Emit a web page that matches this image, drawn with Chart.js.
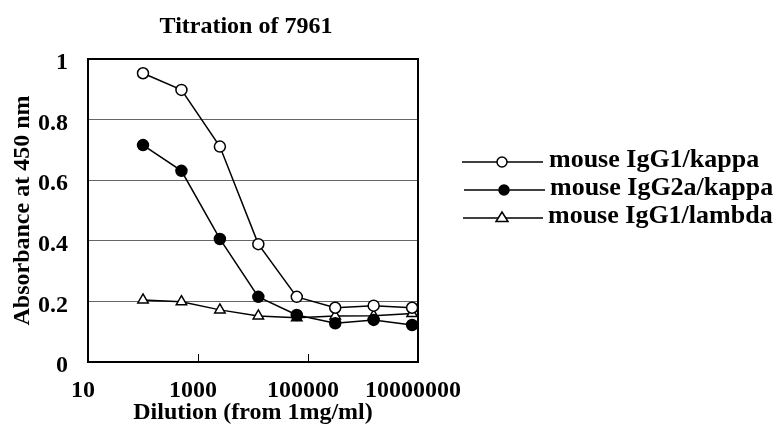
<!DOCTYPE html>
<html>
<head>
<meta charset="utf-8">
<script src="https://cdn.jsdelivr.net/npm/chart.js@4"></script>
<style>
  html, body { margin: 0; padding: 0; background: #fff; }
  #wrap { width: 781px; height: 425px; }
</style>
</head>
<body>
<div id="wrap"><canvas id="titration-chart" width="781" height="425"></canvas></div>
<script>
// dilution factors (5-fold series)
const dilutions = [100, 500, 2500, 12500, 62500, 312500, 1562500, 7812500];
const seriesNames = ['mouse IgG1/kappa', 'mouse IgG2a/kappa', 'mouse IgG1/lambda'];
const igg1Kappa = [0.953, 0.898, 0.711, 0.389, 0.215, 0.179, 0.186, 0.179];
const igg2aKappa = [0.716, 0.631, 0.406, 0.215, 0.155, 0.128, 0.139, 0.122];
const igg1Lambda = [0.205, 0.199, 0.172, 0.152, 0.146, 0.152, 0.153, 0.160];
const xTicks = [10, 1000, 100000, 10000000];
const yTicks = [0, 0.2, 0.4, 0.6, 0.8, 1];

const serif = "'Liberation Serif', 'Times New Roman', serif";

function toPoints(values) {
    return values.map((v, i) => ({ x: dilutions[i], y: v }));
}

// box + inward ticks + title + legend
const decorPlugin = {
    id: 'decor',
    afterDatasetsDraw(chart) {
        const { ctx, chartArea: a, scales } = chart;
        ctx.save();
        ctx.strokeStyle = '#000';
        ctx.lineWidth = 2;
        ctx.strokeRect(a.left, a.top, a.right - a.left, a.bottom - a.top);

        ctx.lineWidth = 1;
        [1000, 100000].forEach(v => {
            const x = Math.round(scales.x.getPixelForValue(v)) + 0.5;
            ctx.beginPath();
            ctx.moveTo(x, a.bottom);
            ctx.lineTo(x, a.bottom - 8);
            ctx.stroke();
        });

        ctx.fillStyle = '#000';
        ctx.font = 'bold 24px ' + serif;
        ctx.textAlign = 'center';
        ctx.textBaseline = 'alphabetic';
        ctx.fillText('Titration of 7961', (a.left + a.right) / 2 - 7, 33);

        // legend
        const rows = [
            { y: 162, x0: 462, x1: 543, mx: 502, tx: 549 },
            { y: 190, x0: 464, x1: 545, mx: 504, tx: 550 },
            { y: 218, x0: 463, x1: 543, mx: 502, tx: 548 }
        ];
        ctx.font = 'bold 26px ' + serif;
        ctx.textAlign = 'left';
        chart.data.datasets.forEach((ds, i) => {
            const r = rows[i];
            ctx.strokeStyle = '#000';
            ctx.lineWidth = 1.5;
            ctx.beginPath();
            ctx.moveTo(r.x0, r.y);
            ctx.lineTo(r.x1, r.y);
            ctx.stroke();
            ctx.fillStyle = ds.pointBackgroundColor;
            ctx.lineWidth = 1.5;
            ctx.beginPath();
            if (ds.pointStyle === 'triangle') {
                const s = 6;
                ctx.moveTo(r.mx, r.y - s);
                ctx.lineTo(r.mx + s, r.y + s * 0.6);
                ctx.lineTo(r.mx - s, r.y + s * 0.6);
                ctx.closePath();
            } else {
                ctx.arc(r.mx, r.y, 5, 0, Math.PI * 2);
            }
            ctx.fill();
            ctx.stroke();
            ctx.fillStyle = '#000';
            ctx.fillText(ds.label, r.tx, r.y + 5);
        });
        ctx.restore();
    }
};

const ctx = document.getElementById('titration-chart').getContext('2d');

new Chart(ctx, {
    type: 'line',
    data: {
        datasets: [{
            label: seriesNames[0],
            data: toPoints(igg1Kappa),
            borderColor: '#000',
            borderWidth: 1.5,
            pointStyle: 'circle',
            pointRadius: 5.5,
            pointBorderWidth: 1.5,
            pointBorderColor: '#000',
            pointBackgroundColor: '#fff',
            tension: 0
        }, {
            label: seriesNames[1],
            data: toPoints(igg2aKappa),
            borderColor: '#000',
            borderWidth: 1.5,
            pointStyle: 'circle',
            pointRadius: 5.5,
            pointBorderWidth: 1.5,
            pointBorderColor: '#000',
            pointBackgroundColor: '#000',
            tension: 0
        }, {
            label: seriesNames[2],
            data: toPoints(igg1Lambda),
            borderColor: '#000',
            borderWidth: 1.5,
            pointStyle: 'triangle',
            pointRadius: 6,
            pointBorderWidth: 1.5,
            pointBorderColor: '#000',
            pointBackgroundColor: '#fff',
            tension: 0
        }]
    },
    options: {
        responsive: false,
        animation: false,
        layout: { padding: { left: 0, right: 363, top: 59, bottom: 0 } },
        plugins: {
            legend: { display: false },
            title: { display: false },
            tooltip: { enabled: false }
        },
        scales: {
            x: {
                type: 'logarithmic',
                min: 10,
                max: 10000000,
                afterBuildTicks: scale => { scale.ticks = xTicks.map(v => ({ value: v })); },
                afterFit: scale => { scale.height = 63; },
                grid: { display: false, drawTicks: false },
                border: { display: false },
                ticks: {
                    autoSkip: false,
                    maxRotation: 0,
                    padding: 14,
                    labelOffset: -5,
                    color: '#000',
                    font: { family: serif, size: 24, weight: 'bold' },
                    callback: value => String(value)
                },
                title: {
                    display: true,
                    text: 'Dilution (from 1mg/ml)',
                    color: '#000',
                    font: { family: serif, size: 24, weight: 'bold', lineHeight: 1 },
                    padding: { top: 0, bottom: 0 }
                }
            },
            y: {
                min: 0,
                max: 1,
                afterBuildTicks: scale => { scale.ticks = yTicks.map(v => ({ value: v })); },
                afterFit: scale => { scale.width = 88; },
                grid: {
                    drawTicks: false,
                    lineWidth: 1,
                    color: c => (c.tick && c.tick.value > 0 && c.tick.value < 1) ? '#666' : 'rgba(0,0,0,0)'
                },
                border: { display: false },
                ticks: {
                    padding: 20,
                    labelOffset: 4,
                    color: '#000',
                    font: { family: serif, size: 24, weight: 'bold' },
                    callback: value => (value === 0 || value === 1) ? String(value) : value.toFixed(1)
                },
                title: {
                    display: true,
                    text: 'Absorbance at 450 nm',
                    color: '#000',
                    font: { family: serif, size: 24, weight: 'bold', lineHeight: 1 },
                    padding: { top: 11, bottom: 0 }
                }
            }
        }
    },
    plugins: [decorPlugin]
});
</script>
</body>
</html>
